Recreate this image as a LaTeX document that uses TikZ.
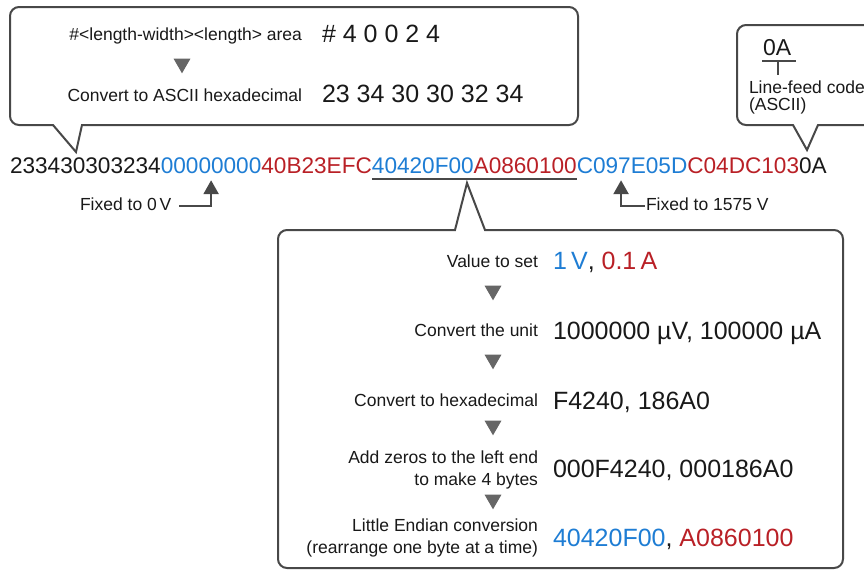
\documentclass[tikz,border=0pt]{standalone}
\usepackage{fontspec}
\setmainfont{Liberation Sans}
\usetikzlibrary{arrows.meta,calc,positioning,shapes.geometric}

\definecolor{hexblue}{RGB}{30,125,212}
\definecolor{hexred}{RGB}{185,32,38}
\definecolor{inkgray}{RGB}{72,72,72}
\definecolor{stepgray}{RGB}{102,102,102}
\definecolor{textblack}{RGB}{25,25,25}

\begin{document}
\begin{tikzpicture}[
  x=1pt,
  y=-1pt,
  >=Latex,
  line width=2pt,
  every node/.style={inner sep=0pt, outer sep=0pt, text=textblack},
  calloutline/.style={draw=inkgray, line width=2pt, fill=white},
  hexseg/.style={font=\fontsize{22.6}{27}\selectfont, anchor=base west},
  smalllabel/.style={font=\fontsize{17.5}{22}\selectfont},
  bigvalue/.style={font=\fontsize{25}{30}\selectfont, anchor=base west},
  stepmark/.style={regular polygon, regular polygon sides=3,
    shape border rotate=180, fill=stepgray, minimum size=19.6pt},
  fixarrow/.style={draw=inkgray, line width=2.5pt,
    -{Triangle[width=15pt,length=14pt]}},
]
\useasboundingbox (0,0) rectangle (864,571);
\clip (0,0) rectangle (864,571);

% callout outlines
\draw[calloutline] (53,125) -- (76,152) -- (82,125) -- (569,125)
  arc[start angle=90, end angle=0, radius=9] -- (578,16)
  arc[start angle=0, end angle=-90, radius=9] -- (19,7)
  arc[start angle=-90, end angle=-180, radius=9] -- (10,116)
  arc[start angle=180, end angle=90, radius=9] -- cycle;
\draw[calloutline] (793,125) -- (807,150) -- (818,125) -- (900,125) -- (900,25)
  -- (746,25) arc[start angle=-90, end angle=-180, radius=9] -- (737,116)
  arc[start angle=180, end angle=90, radius=9] -- cycle;
\draw[calloutline] (455,230) -- (467,183) -- (485,230) -- (834,230)
  arc[start angle=-90, end angle=0, radius=9] -- (843,559)
  arc[start angle=0, end angle=90, radius=9] -- (287,568)
  arc[start angle=90, end angle=180, radius=9] -- (278,239)
  arc[start angle=180, end angle=270, radius=9] -- cycle;

% length area
\node[smalllabel, anchor=base east] (arealabel) at (302,40) {\#<length-width><length> area};
\node[bigvalue] (areavalue) at (322,42) {\# 4 0 0 2 4};
\node[stepmark] (areastep) at (182,63.5) {};
\node[smalllabel, anchor=base east] (asciilabel) at (302,101) {Convert to ASCII hexadecimal};
\node[bigvalue] (asciivalue) at (322,102) {23 34 30 30 32 34};

% line feed
\node[font=\fontsize{23}{27}\selectfont, anchor=base west] (lfhex) at (763,55) {0A};
\draw[inkgray] ([xshift=-1pt,yshift=-6pt]lfhex.south west) -- ([xshift=5pt,yshift=-6pt]lfhex.south east);
\draw[inkgray] ([xshift=1pt,yshift=-6pt]lfhex.south) -- ([xshift=1pt,yshift=-20pt]lfhex.south);
\node[smalllabel, align=left, anchor=west, font=\fontsize{17.5}{17}\selectfont] (lflabel) at (749,97) {Line-feed code\\(ASCII)};

% command string
\node[hexseg] (header) at (10,173) {233430303234};
\node[hexseg, text=hexblue] (vlow) at (header.base east) {00000000};
\node[hexseg, text=hexred] (ilow) at (vlow.base east) {40B23EFC};
\node[hexseg, text=hexblue] (vset) at (ilow.base east) {40420F00};
\node[hexseg, text=hexred] (iset) at (vset.base east) {A0860100};
\node[hexseg, text=hexblue] (vhigh) at (iset.base east) {C097E05D};
\node[hexseg, text=hexred] (ihigh) at (vhigh.base east) {C04DC103};
\node[hexseg] (lf) at (ihigh.base east) {0A};
\draw[inkgray, line width=2.5pt] ([yshift=-6pt]vset.south west) -- ([yshift=-6pt]iset.south east);

% fixed values
\node[smalllabel, anchor=base west] (fixlow) at (80,210) {Fixed to 0\,V};
\node[smalllabel, anchor=base west] (fixhigh) at (646,210) {Fixed to 1575 V};
\draw[fixarrow, shorten <=8pt, shorten >=7pt] ([yshift=-2pt]fixlow.east) -| (vlow.south);
\draw[fixarrow, shorten <=1pt, shorten >=7pt] ([yshift=-2pt]fixhigh.west) -| ([xshift=-11pt]vhigh.south);

% conversion steps
\node[smalllabel, anchor=base east] (setlabel) at (538,267) {Value to set};
\node[bigvalue] (setvalue) at (553,269) {\textcolor{hexblue}{1\,V}, \textcolor{hexred}{0.1\,A}};
\node[stepmark] (step1) at (493,290.5) {};
\node[smalllabel, anchor=base east] (unitlabel) at (538,336) {Convert the unit};
\node[bigvalue] (unitvalue) at (553,339) {1000000 µV, 100000 µA};
\node[stepmark] (step2) at (493,359.5) {};
\node[smalllabel, anchor=base east] (hexlabel) at (538,406) {Convert to hexadecimal};
\node[bigvalue] (hexvalue) at (553,409) {F4240, 186A0};
\node[stepmark] (step3) at (493,425.5) {};
\node[smalllabel, align=right, anchor=east] (padlabel) at (538,470) {Add zeros to the left end\\to make 4 bytes};
\node[bigvalue] (padvalue) at (553,477) {000F4240, 000186A0};
\node[stepmark] (step4) at (493,499.5) {};
\node[smalllabel, align=right, anchor=east] (endianlabel) at (538,538) {Little Endian conversion\\(rearrange one byte at a time)};
\node[bigvalue] (endianvalue) at (553,546) {\textcolor{hexblue}{40420F00}, \textcolor{hexred}{A0860100}};
\end{tikzpicture}
\end{document}
